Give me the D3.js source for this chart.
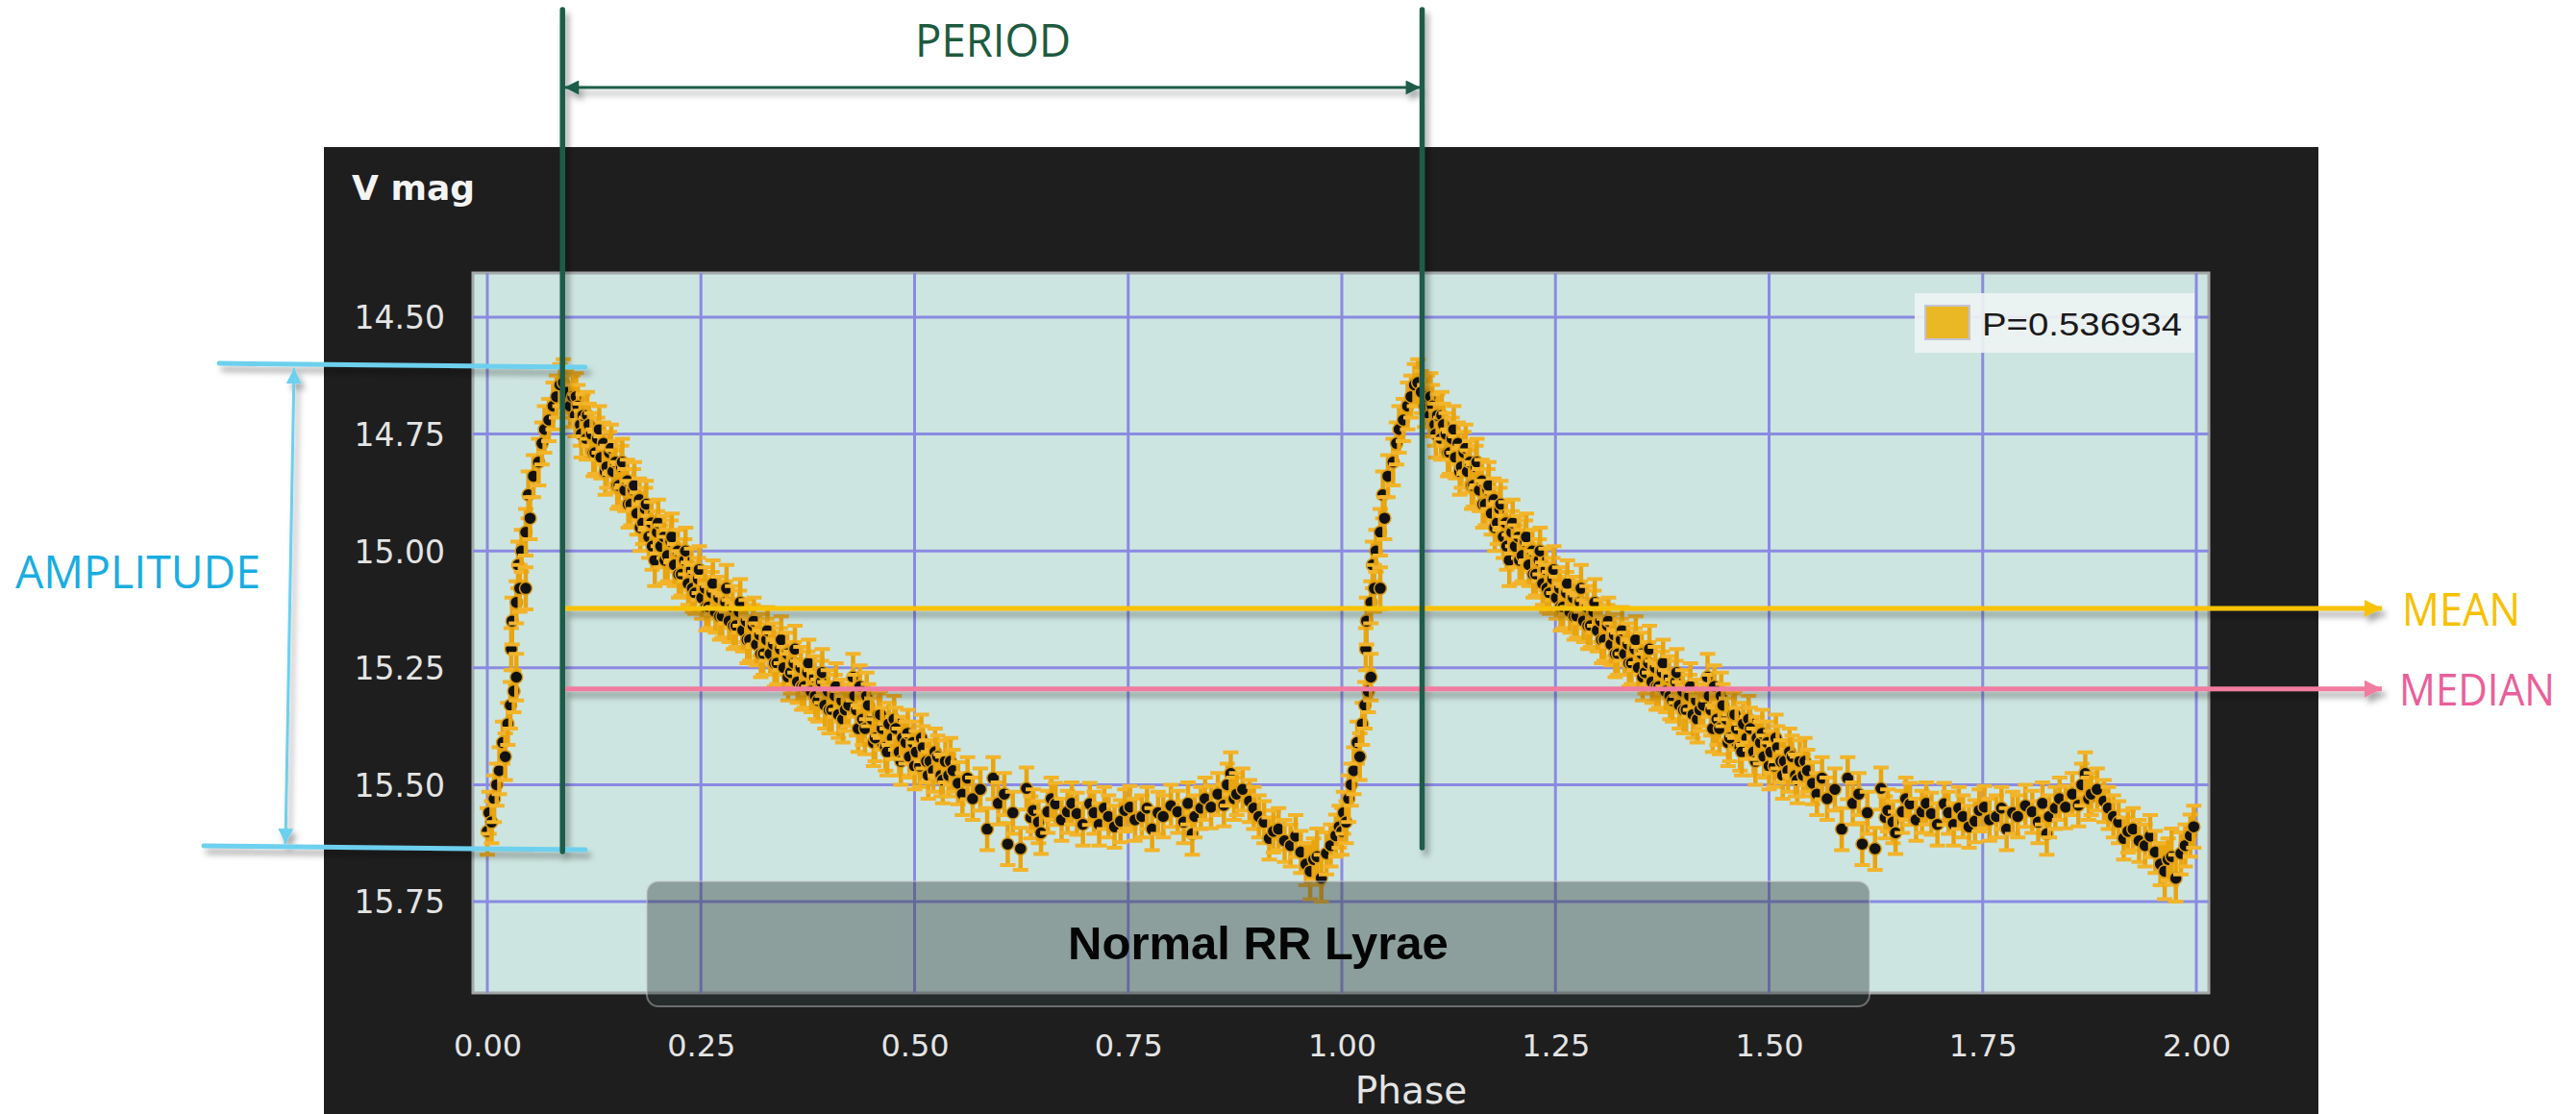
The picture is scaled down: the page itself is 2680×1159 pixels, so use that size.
<!DOCTYPE html>
<html>
<head>
<meta charset="utf-8">
<script src="https://cdn.jsdelivr.net/npm/d3@7"></script>
<style>
  body { margin: 0; background: #fff; }
  svg { display: block; }
</style>
</head>
<body>
<svg id="chart"></svg>
<script>
const W = 2680, H = 1159;

// axis ticks
const yTicks = [14.5, 14.75, 15.0, 15.25, 15.5, 15.75];
const xTicks = [0, 0.25, 0.5, 0.75, 1, 1.25, 1.5, 1.75, 2];

// legend / annotations
const periodLabel = 'P=0.536934';
const periodMarks = [0.088, 1.094];     // phases of the two PERIOD lines
const amplitudeMags = [14.603, 15.635]; // max / min brightness
const meanMag = 15.123;
const medianMag = 15.295;

// typical error bar (mag) when not given per point
const ERR = 0.045;

// folded light curve, one cycle: [phase, V mag, (err)]
const obs = [
  // rise
  [0.000, 15.60, 0.05], [0.002, 15.56], [0.005, 15.58], [0.008, 15.53, 0.05], [0.011, 15.50],
  [0.014, 15.47, 0.05], [0.018, 15.41], [0.021, 15.44, 0.05], [0.024, 15.37], [0.027, 15.33, 0.05],
  [0.031, 15.30], [0.034, 15.27, 0.05], [0.028, 15.21], [0.029, 15.15, 0.05], [0.034, 15.11],
  [0.038, 15.08, 0.05], [0.045, 15.08], [0.036, 15.03, 0.05], [0.040, 15.00], [0.045, 14.96, 0.05],
  [0.050, 14.93], [0.048, 14.88, 0.05], [0.054, 14.84], [0.060, 14.81, 0.05], [0.064, 14.77],
  [0.067, 14.74, 0.05], [0.072, 14.72], [0.077, 14.69, 0.05], [0.081, 14.67], [0.085, 14.645],
  [0.089, 14.64, 0.05],
  // decline, wide band
  [0.093, 14.66], [0.097, 14.69], [0.100, 14.67], [0.103, 14.71], [0.106, 14.69], [0.109, 14.73],
  [0.112, 14.71], [0.116, 14.76], [0.119, 14.73], [0.122, 14.75], [0.126, 14.79], [0.129, 14.76],
  [0.133, 14.80], [0.136, 14.77], [0.140, 14.82], [0.143, 14.79], [0.147, 14.83], [0.150, 14.81],
  [0.154, 14.86], [0.157, 14.82], [0.161, 14.87], [0.164, 14.85], [0.168, 14.90], [0.171, 14.87],
  [0.175, 14.92], [0.178, 14.89], [0.182, 14.94], [0.185, 14.91], [0.189, 14.97], [0.192, 14.94],
  [0.196, 15.02, 0.055], [0.199, 14.96], [0.203, 14.99], [0.207, 14.97], [0.211, 15.01, 0.055], [0.215, 14.98],
  [0.219, 15.03], [0.223, 15.00], [0.227, 15.05], [0.231, 15.02], [0.235, 15.07], [0.239, 15.04],
  [0.243, 15.09], [0.247, 15.06], [0.251, 15.10], [0.255, 15.08], [0.259, 15.12], [0.263, 15.09],
  [0.267, 15.13], [0.271, 15.10], [0.275, 15.14], [0.279, 15.11], [0.283, 15.15], [0.287, 15.12],
  [0.291, 15.16], [0.295, 15.13], [0.299, 15.17], [0.303, 15.15], [0.307, 15.19], [0.311, 15.16],
  [0.315, 15.20], [0.319, 15.18], [0.323, 15.22], [0.327, 15.19], [0.331, 15.22], [0.335, 15.20],
  [0.339, 15.24], [0.343, 15.21], [0.347, 15.25], [0.351, 15.22], [0.355, 15.26], [0.359, 15.24],
  [0.363, 15.28], [0.367, 15.25], [0.371, 15.29], [0.375, 15.26], [0.379, 15.30], [0.383, 15.27],
  [0.387, 15.32], [0.391, 15.28], [0.395, 15.33, 0.05], [0.399, 15.30], [0.403, 15.34, 0.05], [0.407, 15.31],
  [0.411, 15.35, 0.05], [0.415, 15.32], [0.419, 15.34], [0.423, 15.33],
  // outer edges of the declining band
  [0.104, 14.67, 0.05], [0.110, 14.75, 0.05], [0.117, 14.71, 0.05], [0.124, 14.79, 0.05], [0.131, 14.74, 0.05],
  [0.138, 14.83, 0.05], [0.145, 14.78, 0.05], [0.152, 14.86, 0.05], [0.158, 14.81, 0.05], [0.165, 14.90, 0.05],
  [0.172, 14.86, 0.05], [0.179, 14.95, 0.05], [0.186, 14.90, 0.05], [0.193, 14.99, 0.05], [0.200, 14.94, 0.05],
  [0.208, 15.02, 0.05], [0.216, 14.97, 0.05], [0.224, 15.05, 0.05], [0.232, 15.00, 0.05], [0.240, 15.08, 0.05],
  [0.248, 15.04, 0.05], [0.256, 15.12, 0.05], [0.264, 15.07, 0.05], [0.272, 15.14, 0.05], [0.280, 15.08, 0.05],
  [0.288, 15.16, 0.05], [0.296, 15.11, 0.05], [0.304, 15.19, 0.05], [0.312, 15.15, 0.05], [0.320, 15.22, 0.05],
  [0.328, 15.17, 0.05], [0.336, 15.24, 0.05], [0.344, 15.19, 0.05], [0.352, 15.27, 0.05], [0.360, 15.21, 0.05],
  [0.368, 15.29, 0.05], [0.376, 15.24, 0.05], [0.384, 15.31, 0.05], [0.392, 15.26, 0.05], [0.400, 15.34, 0.05],
  [0.408, 15.29, 0.05], [0.416, 15.36, 0.05],
  // second segment of the decline
  [0.428, 15.27, 0.05], [0.430, 15.31], [0.432, 15.34, 0.055], [0.436, 15.29], [0.439, 15.36, 0.055],
  [0.442, 15.38, 0.055], [0.446, 15.33], [0.450, 15.36], [0.454, 15.40, 0.05], [0.458, 15.35],
  [0.462, 15.38], [0.466, 15.42, 0.05], [0.470, 15.37], [0.474, 15.40], [0.478, 15.38],
  [0.482, 15.43, 0.05], [0.486, 15.40], [0.490, 15.41], [0.494, 15.44], [0.498, 15.41],
  [0.502, 15.43], [0.506, 15.46], [0.510, 15.42], [0.514, 15.45], [0.518, 15.45],
  [0.522, 15.47], [0.527, 15.44], [0.531, 15.48], [0.536, 15.45], [0.540, 15.48], [0.545, 15.47],
  [0.434, 15.38, 0.05], [0.444, 15.31, 0.05], [0.452, 15.41, 0.05], [0.460, 15.35, 0.05], [0.468, 15.43, 0.05],
  [0.476, 15.36, 0.05], [0.484, 15.45, 0.05], [0.492, 15.39, 0.05], [0.500, 15.46, 0.05], [0.508, 15.40, 0.05],
  [0.516, 15.48, 0.05], [0.524, 15.43, 0.05], [0.533, 15.49, 0.05], [0.542, 15.45, 0.05],
  // minimum light plateau
  [0.551, 15.497], [0.556, 15.52], [0.562, 15.486], [0.568, 15.53], [0.577, 15.51],
  [0.585, 15.595], [0.592, 15.486], [0.598, 15.54], [0.605, 15.52], [0.609, 15.627],
  [0.615, 15.56], [0.624, 15.637], [0.631, 15.508], [0.636, 15.57], [0.639, 15.555],
  [0.645, 15.58], [0.648, 15.603], [0.656, 15.558], [0.660, 15.53], [0.665, 15.541],
  [0.672, 15.575], [0.679, 15.558], [0.684, 15.54], [0.690, 15.562], [0.697, 15.585],
  [0.705, 15.541], [0.710, 15.56], [0.716, 15.585], [0.722, 15.55], [0.727, 15.568],
  [0.734, 15.59], [0.741, 15.578], [0.746, 15.555], [0.752, 15.548], [0.758, 15.575],
  [0.766, 15.568], [0.772, 15.55], [0.778, 15.595], [0.785, 15.56], [0.791, 15.568],
  [0.800, 15.545], [0.808, 15.558], [0.815, 15.58], [0.820, 15.54], [0.825, 15.605],
  [0.828, 15.568], [0.835, 15.55], [0.840, 15.53], [0.847, 15.548], [0.855, 15.52],
  [0.862, 15.544], [0.866, 15.50], [0.870, 15.476], [0.874, 15.53], [0.877, 15.52],
  [0.884, 15.51], [0.892, 15.535], [0.897, 15.55], [0.903, 15.568], [0.909, 15.58],
  [0.915, 15.615], [0.920, 15.60], [0.926, 15.595], [0.933, 15.62], [0.940, 15.63],
  [0.946, 15.61], [0.952, 15.644], [0.958, 15.67], [0.963, 15.685, 0.06], [0.967, 15.66],
  [0.971, 15.654, 0.06], [0.976, 15.70, 0.05], [0.982, 15.647], [0.987, 15.63], [0.993, 15.609],
  [0.997, 15.59]
];

// the phase plot shows the same cycle twice
const points = obs.map(d => ({ph: d[0], v: d[1], e: d[2] || ERR}))
  .concat(obs.map(d => ({ph: d[0] + 1, v: d[1], e: d[2] || ERR})))
  .sort((a, b) => a.ph - b.ph);

const svg = d3.select('#chart')
  .attr('width', W)
  .attr('height', H)
  .attr('viewBox', `0 0 ${W} ${H}`);

svg.append('rect').attr('width', W).attr('height', H).attr('fill', '#fff');

const defs = svg.append('defs');
defs.append('filter')
  .attr('id', 'shadow')
  .attr('x', '-20%').attr('y', '-20%').attr('width', '140%').attr('height', '140%')
  .append('feDropShadow')
  .attr('dx', 4).attr('dy', 6).attr('stdDeviation', 3)
  .attr('flood-color', '#000').attr('flood-opacity', 0.35);

function arrowMarker(id, color, len, wid) {
  defs.append('marker')
    .attr('id', id)
    .attr('viewBox', '0 0 10 10')
    .attr('refX', 10).attr('refY', 5)
    .attr('markerUnits', 'userSpaceOnUse')
    .attr('markerWidth', len).attr('markerHeight', wid)
    .attr('orient', 'auto-start-reverse')
    .append('path')
    .attr('d', 'M0,0 L10,5 L0,10 Z')
    .attr('fill', color);
}
arrowMarker('arrGreen', '#1e5c48', 20, 15);
arrowMarker('arrCyan', '#6dd0ee', 22, 16);
arrowMarker('arrMean', '#f8c200', 22, 18);
arrowMarker('arrMedian', '#f07ba0', 22, 18);

// dark chart panel
const panel = {x: 337, y: 153, w: 2075, h: H - 153};
svg.append('rect')
  .attr('x', panel.x).attr('y', panel.y)
  .attr('width', panel.w).attr('height', panel.h)
  .attr('fill', '#1e1e1e');

// plot area
const plot = {x: 492, y: 284, w: 1806, h: 749};
const x = d3.scaleLinear().domain([0, 2]).range([507, 2285]);
const y = d3.scaleLinear().domain([14.5, 15.75]).range([330, 938]);

svg.append('rect')
  .attr('x', plot.x).attr('y', plot.y)
  .attr('width', plot.w).attr('height', plot.h)
  .attr('fill', '#cde5e0')
  .attr('stroke', '#a4a8a8')
  .attr('stroke-width', 3);

defs.append('clipPath').attr('id', 'plotClip')
  .append('rect')
  .attr('x', plot.x).attr('y', plot.y)
  .attr('width', plot.w).attr('height', plot.h);

// grid
const grid = svg.append('g').attr('clip-path', 'url(#plotClip)');
grid.selectAll('line.gx')
  .data(xTicks)
  .join('line')
  .attr('class', 'gx')
  .attr('x1', d => x(d)).attr('x2', d => x(d))
  .attr('y1', plot.y).attr('y2', plot.y + plot.h)
  .attr('stroke', '#8a8ae2').attr('stroke-width', 3);
grid.selectAll('line.gy')
  .data(yTicks)
  .join('line')
  .attr('class', 'gy')
  .attr('x1', plot.x).attr('x2', plot.x + plot.w)
  .attr('y1', d => y(d)).attr('y2', d => y(d))
  .attr('stroke', '#8a8ae2').attr('stroke-width', 3);

// axes labels
const yAxis = d3.axisLeft(y).tickValues(yTicks).tickSize(0).tickPadding(0)
  .tickFormat(d3.format('.2f'));
svg.append('g')
  .attr('transform', 'translate(463,0)')
  .call(yAxis)
  .call(g => g.select('.domain').remove())
  .selectAll('text')
  .attr('fill', '#e4e4e4')
  .attr('font-family', 'DejaVu Sans')
  .attr('font-size', 33)
  .attr('dy', '0.36em');

const xAxis = d3.axisBottom(x).tickValues(xTicks).tickSize(0).tickPadding(0)
  .tickFormat(d3.format('.2f'));
svg.append('g')
  .attr('transform', 'translate(0,1076)')
  .call(xAxis)
  .call(g => g.select('.domain').remove())
  .selectAll('text')
  .attr('fill', '#e4e4e4')
  .attr('font-family', 'DejaVu Sans')
  .attr('font-size', 32)
  .attr('dy', '0.71em');

svg.append('text')
  .attr('x', 366).attr('y', 208)
  .attr('fill', '#f4f4f4')
  .attr('font-family', 'DejaVu Sans')
  .attr('font-weight', 'bold')
  .attr('font-size', 36)
  .text('V mag');

svg.append('text')
  .attr('x', 1468).attr('y', 1148)
  .attr('text-anchor', 'middle')
  .attr('fill', '#e4e4e4')
  .attr('font-family', 'DejaVu Sans')
  .attr('font-size', 39)
  .text('Phase');

// data points with error bars
const marks = svg.append('g').attr('clip-path', 'url(#plotClip)');
const pt = marks.selectAll('g.pt')
  .data(points)
  .join('g')
  .attr('class', 'pt');
pt.append('line')
  .attr('x1', d => x(d.ph)).attr('x2', d => x(d.ph))
  .attr('y1', d => y(d.v - d.e)).attr('y2', d => y(d.v + d.e))
  .attr('stroke', '#e9a40e').attr('stroke-width', 4.5);
pt.append('path')
  .attr('d', d => {
    const cx = x(d.ph);
    return `M${cx - 8},${y(d.v - d.e)}H${cx + 8}M${cx - 8},${y(d.v + d.e)}H${cx + 8}`;
  })
  .attr('stroke', '#f2b42a').attr('stroke-width', 4);
pt.append('circle')
  .attr('cx', d => x(d.ph)).attr('cy', d => y(d.v))
  .attr('r', 6.5)
  .attr('fill', '#111')
  .attr('stroke', '#d99a12').attr('stroke-width', 1.5);

// legend
svg.append('rect')
  .attr('x', 1992).attr('y', 305).attr('width', 291).attr('height', 62)
  .attr('fill', '#eef3f3').attr('opacity', 0.92);
svg.append('rect')
  .attr('x', 2003).attr('y', 318).attr('width', 46).attr('height', 35)
  .attr('fill', '#e9b824').attr('stroke', '#c4c4d4').attr('stroke-width', 2);
svg.append('text')
  .attr('x', 2062).attr('y', 349)
  .attr('fill', '#1a1a1a')
  .attr('font-family', 'Liberation Sans, Arial')
  .attr('font-size', 34)
  .attr('textLength', 208).attr('lengthAdjust', 'spacingAndGlyphs')
  .text(periodLabel);

// "Normal RR Lyrae" caption box
svg.append('rect')
  .attr('x', 673).attr('y', 917).attr('width', 1272).attr('height', 130)
  .attr('rx', 12)
  .attr('fill', 'rgb(50,62,62)').attr('fill-opacity', 0.42)
  .attr('stroke', 'rgba(200,200,200,0.45)').attr('stroke-width', 2);
svg.append('text')
  .attr('x', 1309).attr('y', 998)
  .attr('text-anchor', 'middle')
  .attr('fill', '#050505')
  .attr('font-family', 'Liberation Sans, Arial')
  .attr('font-weight', 'bold')
  .attr('font-size', 49)
  .text('Normal RR Lyrae');

// mean / median arrows
const ann = svg.append('g').attr('filter', 'url(#shadow)');
ann.append('line')
  .attr('x1', 588).attr('x2', 2478)
  .attr('y1', y(meanMag)).attr('y2', y(meanMag))
  .attr('stroke', '#f8c200').attr('stroke-width', 5)
  .attr('marker-end', 'url(#arrMean)');
ann.append('line')
  .attr('x1', 588).attr('x2', 2478)
  .attr('y1', y(medianMag)).attr('y2', y(medianMag))
  .attr('stroke', '#f07ba0').attr('stroke-width', 5)
  .attr('marker-end', 'url(#arrMedian)');

// amplitude
ann.append('line')
  .attr('x1', 228).attr('x2', 609)
  .attr('y1', y(amplitudeMags[0]) - 2).attr('y2', y(amplitudeMags[0]) + 2)
  .attr('stroke', '#6dd0ee').attr('stroke-width', 5).attr('stroke-linecap', 'round');
ann.append('line')
  .attr('x1', 212).attr('x2', 609)
  .attr('y1', y(amplitudeMags[1]) - 2).attr('y2', y(amplitudeMags[1]) + 2)
  .attr('stroke', '#6dd0ee').attr('stroke-width', 5).attr('stroke-linecap', 'round');
ann.append('line')
  .attr('x1', 306).attr('x2', 297)
  .attr('y1', y(amplitudeMags[0]) + 3).attr('y2', y(amplitudeMags[1]) - 4)
  .attr('stroke', '#6dd0ee').attr('stroke-width', 3)
  .attr('marker-start', 'url(#arrCyan)')
  .attr('marker-end', 'url(#arrCyan)');

// period lines and arrow
ann.selectAll('line.per')
  .data(periodMarks)
  .join('line')
  .attr('class', 'per')
  .attr('x1', d => x(d)).attr('x2', d => x(d))
  .attr('y1', 10).attr('y2', (d, i) => i === 0 ? 886 : 882)
  .attr('stroke', '#1e5c48').attr('stroke-width', 5.5)
  .attr('stroke-linecap', 'round');
ann.append('line')
  .attr('x1', x(periodMarks[0]) + 2).attr('x2', x(periodMarks[1]) - 2)
  .attr('y1', 91).attr('y2', 91)
  .attr('stroke', '#1e5c48').attr('stroke-width', 3)
  .attr('marker-start', 'url(#arrGreen)')
  .attr('marker-end', 'url(#arrGreen)');

// annotation labels
const label = (txt, xx, yy, color, len, size) => svg.append('text')
  .attr('x', xx).attr('y', yy)
  .attr('fill', color)
  .attr('font-family', 'Open Sans')
  .attr('font-size', size || 48)
  .attr('textLength', len).attr('lengthAdjust', 'spacingAndGlyphs')
  .text(txt);
label('PERIOD', 952, 59, '#1d5a40', 162);
label('AMPLITUDE', 16, 612, '#1aade0', 255);
label('MEAN', 2499, 651, '#f8c000', 123);
label('MEDIAN', 2496, 734, '#e8609a', 162, 45);
</script>
</body>
</html>
